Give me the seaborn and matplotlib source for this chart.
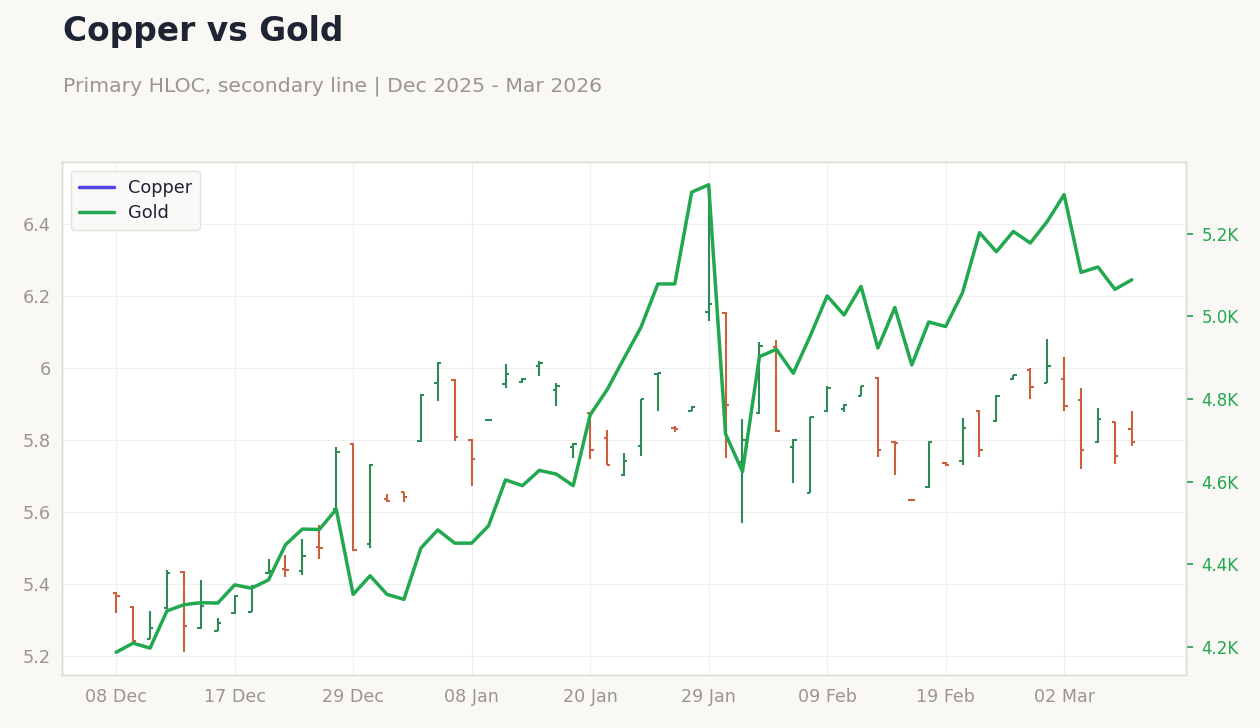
import pandas as pd
import seaborn as sns
import matplotlib.pyplot as plt
from matplotlib.lines import Line2D
from matplotlib.ticker import FuncFormatter

# Trading days (US calendar), 08 Dec 2025 - 06 Mar 2026
holidays = ['2025-12-25', '2026-01-01', '2026-01-19', '2026-02-16']
dates = pd.bdate_range('2025-12-08', '2026-03-06', freq='C', holidays=holidays)

# Copper HLOC (primary axis)
copper_open = [5.375, 5.338, 5.248, 5.333, 5.433, 5.278, 5.271, 5.319, 5.324, 5.432,
               5.443, 5.437, 5.504, 5.610, 5.790, 5.512, 5.636, 5.655, 5.798, 5.960,
               5.968, 5.801, 5.857, 5.955, 5.962, 6.005, 5.940, 5.782, 5.875, 5.806,
               5.703, 5.785, 5.984, 5.834, 5.882, 6.157, 6.154, 5.739, 5.875, 6.060,
               5.781, 5.653, 5.880, 5.888, 5.923, 5.973, 5.796, 5.635, 5.669, 5.738,
               5.743, 5.882, 5.854, 5.969, 5.994, 5.960, 5.969, 5.911, 5.794, 5.851,
               5.831]
copper_high = [5.378, 5.340, 5.326, 5.440, 5.437, 5.412, 5.307, 5.369, 5.398, 5.470,
               5.481, 5.526, 5.565, 5.781, 5.792, 5.734, 5.651, 5.656, 5.928, 6.017,
               5.970, 5.803, 5.858, 6.012, 5.972, 6.019, 5.958, 5.792, 5.878, 5.829,
               5.764, 5.914, 5.988, 5.841, 5.895, 6.500, 6.156, 5.858, 6.074, 6.079,
               5.803, 5.866, 5.952, 5.900, 5.952, 5.975, 5.798, 5.636, 5.798, 5.739,
               5.861, 5.884, 5.927, 5.981, 6.000, 6.081, 6.030, 5.944, 5.889, 5.852,
               5.881]
copper_low = [5.319, 5.241, 5.247, 5.331, 5.213, 5.275, 5.270, 5.318, 5.322, 5.428,
              5.421, 5.426, 5.471, 5.608, 5.493, 5.500, 5.628, 5.628, 5.796, 5.910,
              5.799, 5.674, 5.856, 5.944, 5.960, 5.979, 5.895, 5.752, 5.748, 5.730,
              5.701, 5.755, 5.880, 5.824, 5.880, 6.132, 5.750, 5.571, 5.873, 5.824,
              5.682, 5.653, 5.878, 5.878, 5.923, 5.753, 5.703, 5.632, 5.667, 5.729,
              5.730, 5.753, 5.852, 5.968, 5.916, 5.958, 5.880, 5.720, 5.792, 5.733,
              5.785]
copper_close = [5.368, 5.243, 5.278, 5.431, 5.285, 5.341, 5.292, 5.368, 5.396, 5.436,
                5.440, 5.479, 5.500, 5.768, 5.494, 5.731, 5.632, 5.642, 5.926, 6.014,
                5.810, 5.748, 5.857, 5.985, 5.971, 6.014, 5.951, 5.790, 5.773, 5.731,
                5.743, 5.914, 5.986, 5.830, 5.893, 6.178, 5.898, 5.801, 6.063, 5.827,
                5.801, 5.864, 5.946, 5.897, 5.950, 5.773, 5.793, 5.633, 5.796, 5.731,
                5.833, 5.774, 5.924, 5.980, 5.949, 6.005, 5.896, 5.774, 5.858, 5.756,
                5.796]

# Gold close (secondary axis)
gold = [4187, 4209, 4197, 4287, 4302, 4307, 4306, 4350, 4342, 4362,
        4447, 4485, 4484, 4533, 4327, 4372, 4327, 4315, 4439, 4483,
        4451, 4451, 4493, 4604, 4590, 4627, 4618, 4590, 4761, 4822,
        4898, 4973, 5078, 5078, 5300, 5318, 4715, 4624, 4902, 4920,
        4862, 4952, 5049, 5003, 5072, 4923, 5021, 4882, 4986, 4975,
        5057, 5202, 5156, 5205, 5177, 5229, 5294, 5106, 5119, 5065,
        5088]

df = pd.DataFrame({
    'idx': range(len(dates)), 'date': dates,
    'open': copper_open, 'high': copper_high, 'low': copper_low,
    'close': copper_close, 'gold': gold,
})

up_color = '#2e8b57'
down_color = '#cc5f3e'
gold_color = '#22a84f'
copper_color = '#4f46e5'
muted = '#9a9590'

sns.set_theme(style='white')
plt.rcParams['font.family'] = ['DejaVu Sans']

fig = plt.figure(figsize=(12.6, 7.28), dpi=100, facecolor='#f9f8f5')
ax = fig.add_axes([62 / 1260, 1 - 675 / 728, (1186 - 62) / 1260, (675 - 162) / 728])
ax.set_facecolor('white')

# HLOC bars
tick_w = 0.2
for rising, grp in df.groupby(df['close'] >= df['open']):
    col = up_color if rising else down_color
    ax.vlines(grp['idx'], grp['low'], grp['high'], color=col, linewidth=1.5)
    ax.hlines(grp['open'], grp['idx'] - tick_w, grp['idx'], color=col, linewidth=1.5)
    ax.hlines(grp['close'], grp['idx'], grp['idx'] + tick_w, color=col, linewidth=1.5)

ax.set_xlim(-3.2, 63.2)
ax.set_ylim(5.148, 6.573)
ax.set_yticks([5.2, 5.4, 5.6, 5.8, 6.0, 6.2, 6.4])
ax.yaxis.set_major_formatter(FuncFormatter(lambda v, p: f'{v:g}'))
xt = list(range(0, 57, 7))
ax.set_xticks(xt)
ax.set_xticklabels([dates[i].strftime('%d %b') for i in xt])
ax.grid(True, color='#efefef', linewidth=0.8)
ax.tick_params(axis='y', length=0, labelsize=12.8, labelcolor=muted, pad=8)
ax.tick_params(axis='x', length=5, color='#b0aca6', labelsize=12.6, labelcolor=muted, pad=4)
ax.set_xlabel('')
ax.set_ylabel('')

# Gold line on secondary axis
ax2 = ax.twinx()
sns.lineplot(data=df, x='idx', y='gold', ax=ax2, color=gold_color, linewidth=2.5)
ax2.set_ylim(4132, 5373)
ax2.set_yticks([4200, 4400, 4600, 4800, 5000, 5200])
ax2.yaxis.set_major_formatter(FuncFormatter(lambda v, p: f'{v / 1000:.1f}K'))
ax2.tick_params(axis='y', length=5, color=gold_color, labelsize=12, labelcolor=gold_color, pad=6)
ax2.set_xlabel('')
ax2.set_ylabel('')
ax2.grid(False)

for a in (ax, ax2):
    for s in a.spines.values():
        s.set_color('#e0dcd5')
        s.set_linewidth(1)

handles = [Line2D([], [], color=copper_color, linewidth=2.5),
           Line2D([], [], color=gold_color, linewidth=2.5)]
leg = ax2.legend(handles, ['Copper', 'Gold'], loc='upper left', fontsize=12.8,
                 frameon=True, facecolor='#f9f8f5', edgecolor='#e0dcd5',
                 borderpad=0.45, handlelength=2.0, handletextpad=0.75,
                 labelspacing=0.4)
for t in leg.get_texts():
    t.set_color('#1e2433')

fig.text(63 / 1260, 1 - 15 / 728, 'Copper vs Gold', fontsize=23.7, fontweight='bold',
         color='#1e2433', va='top', ha='left')
fig.text(63 / 1260, 1 - 76 / 728, 'Primary HLOC, secondary line | Dec 2025 - Mar 2026',
         fontsize=14.7, color=muted, va='top', ha='left')

fig.savefig('out.png', dpi=100, facecolor=fig.get_facecolor())
